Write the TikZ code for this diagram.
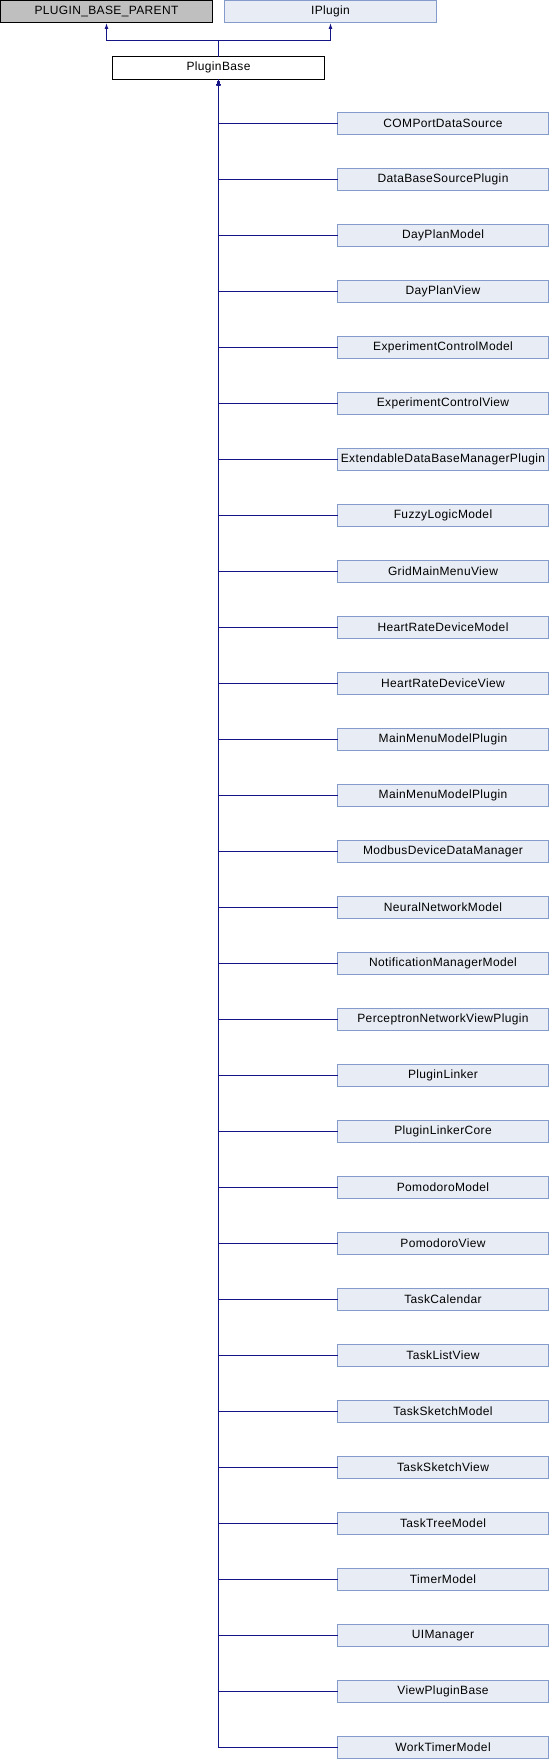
\documentclass[tikz,border=0pt]{standalone}
\usepackage{fontspec}
\setmainfont{Liberation Sans}[LetterSpace=3]
\usetikzlibrary{arrows.meta}
\definecolor{edgeblue}{RGB}{20,20,135}
\definecolor{childfill}{RGB}{232,236,244}
\definecolor{childborder}{RGB}{132,155,204}
\definecolor{greyfill}{RGB}{191,191,191}
\tikzset{
  cls/.style={draw, line width=1pt, inner sep=0pt, outer sep=0pt, minimum height=22.5pt,
    font=\fontsize{12}{14}\selectfont, anchor=center},
  childcls/.style={cls, fill=childfill, draw=childborder, minimum width=211pt},
  greycls/.style={cls, fill=greyfill, draw=black, minimum width=212pt},
  mainCls/.style={cls, fill=white, draw=black, minimum width=212pt},
  inh/.style={draw=edgeblue, line width=1pt, -{Latex[length=6pt,width=4pt]}}
}
\begin{document}
\begin{tikzpicture}[x=1pt,y=-1pt]
\useasboundingbox (0,0) rectangle (550,1760);
\node[greycls] (pbp) at (106.5,11.75) {PLUGIN\_BASE\_PARENT};
\node[childcls, minimum width=212pt] (ip) at (330.5,11.75) {IPlugin};
\node[mainCls] (pb) at (218.5,67.8) {PluginBase};
\coordinate (j) at (218.5,40.7);
\draw[inh] (pb.north) -- (j) -| (pbp.south);
\draw[inh] (j) -| (ip.south);
\foreach \name [count=\i from 0] in {COMPortDataSource,DataBaseSourcePlugin,DayPlanModel,DayPlanView,ExperimentControlModel,ExperimentControlView,ExtendableDataBaseManagerPlugin,FuzzyLogicModel,GridMainMenuView,HeartRateDeviceModel,HeartRateDeviceView,MainMenuModelPlugin,MainMenuModelPlugin,ModbusDeviceDataManager,NeuralNetworkModel,NotificationManagerModel,PerceptronNetworkViewPlugin,PluginLinker,PluginLinkerCore,PomodoroModel,PomodoroView,TaskCalendar,TaskListView,TaskSketchModel,TaskSketchView,TaskTreeModel,TimerModel,UIManager,ViewPluginBase,WorkTimerModel} {
  \node[childcls] (c\i) at (443,123.5+56*\i) {\name};
  \draw[inh] (c\i.west) -| (pb.south);
}
\end{tikzpicture}
\end{document}
